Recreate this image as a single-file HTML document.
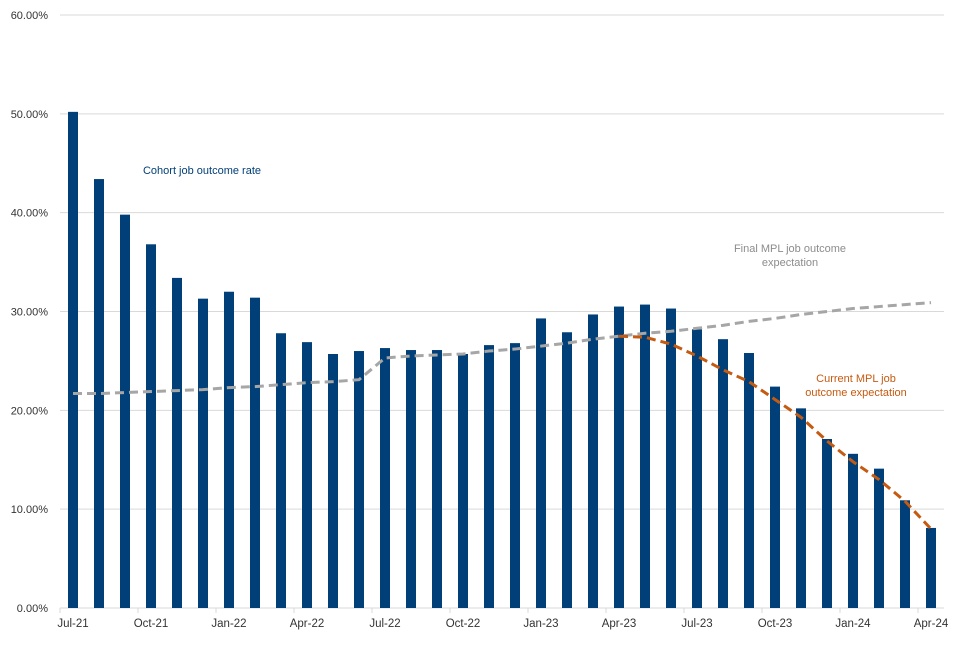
<!DOCTYPE html>
<html><head><meta charset="utf-8"><style>
body{margin:0;background:#fff;}
svg text{font-family:"Liberation Sans",sans-serif;}
</style></head><body>
<svg id="chart" width="960" height="640" xmlns="http://www.w3.org/2000/svg"></svg>
<script>
const months=["Jul-21","Aug-21","Sep-21","Oct-21","Nov-21","Dec-21","Jan-22","Feb-22","Mar-22","Apr-22","May-22","Jun-22","Jul-22","Aug-22","Sep-22","Oct-22","Nov-22","Dec-22","Jan-23","Feb-23","Mar-23","Apr-23","May-23","Jun-23","Jul-23","Aug-23","Sep-23","Oct-23","Nov-23","Dec-23","Jan-24","Feb-24","Mar-24","Apr-24"];
const cohortRate=[50.2,43.4,39.8,36.8,33.4,31.3,32.0,31.4,27.8,26.9,25.7,26.0,26.3,26.1,26.1,25.7,26.6,26.8,29.3,27.9,29.7,30.5,30.7,30.3,28.2,27.2,25.8,22.4,20.2,17.1,15.6,14.1,10.9,8.1];
const finalMpl=[21.7,21.7,21.8,21.9,22.0,22.1,22.3,22.4,22.6,22.8,22.9,23.1,25.3,25.5,25.6,25.7,26.0,26.2,26.5,26.8,27.2,27.5,27.8,28.0,28.3,28.6,29.0,29.3,29.7,30.0,30.3,30.5,30.7,30.9];
const currentMpl=[null,null,null,null,null,null,null,null,null,null,null,null,null,null,null,null,null,null,null,null,null,27.5,27.4,26.7,25.5,24.1,22.9,21.1,19.3,16.9,14.8,13.0,10.8,8.0];
const yTicks=[0,10,20,30,40,50,60];
const xTickLabels=["Jul-21","Oct-21","Jan-22","Apr-22","Jul-22","Oct-22","Jan-23","Apr-23","Jul-23","Oct-23","Jan-24","Apr-24"];

const NS="http://www.w3.org/2000/svg";
const svg=document.getElementById('chart');
const X0=60,X1=944,Y0=608,YTOP=15;
const bw=(X1-X0)/months.length;
const y=v=>Y0-(v/60)*(Y0-YTOP);
const xc=i=>X0+bw*(i+0.5);
function mk(t,a){const e=document.createElementNS(NS,t);for(const k in a)e.setAttribute(k,a[k]);svg.appendChild(e);return e;}

yTicks.forEach(v=>{
  if(v>0){const g=mk('line',{x1:X0,x2:X1,y1:y(v),y2:y(v),stroke:'#d9d9d9','stroke-width':1});
  
  }
  const t=mk('text',{x:48,y:y(v)+4,'text-anchor':'end','font-size':11,fill:'#333'});
  t.textContent=v.toFixed(2)+'%';
  
  
});
const ax=mk('line',{x1:X0,x2:X1,y1:Y0,y2:Y0,stroke:'#d9d9d9','stroke-width':1});


xTickLabels.forEach(l=>{
  const i=months.indexOf(l);const x=X0+bw*i;
  const tk=mk('line',{x1:x,x2:x,y1:Y0,y2:Y0+5,stroke:'#d9d9d9'});
  
  
  const t=mk('text',{x:xc(i),y:Y0+19,'text-anchor':'middle','font-size':11.5,fill:'#333'});
  t.textContent=l;
  
  
});
cohortRate.forEach((v,i)=>{
  const r=mk('rect',{x:xc(i)-5,y:y(v),width:10,height:Y0-y(v),fill:'#003f78'});
  
  
});
function line(arr,color,name){
  let d='';arr.forEach((v,i)=>{if(v==null)return;d+=(d?'L':'M')+xc(i)+','+y(v);});
  const p=mk('path',{d:d,fill:'none',stroke:color,'stroke-width':3,'stroke-dasharray':'9,5'});
  
  
}
line(finalMpl,'#a6a6a6','final-mpl-line');
line(currentMpl,'#c55a11','current-mpl-line');
function label(lines,x,yy,color,name){
  const t=mk('text',{x:x,y:yy,'text-anchor':'middle','font-size':11,fill:color});
  lines.forEach((s,k)=>{const ts=document.createElementNS(NS,'tspan');ts.setAttribute('x',x);ts.setAttribute('dy',k?14:0);ts.textContent=s;t.appendChild(ts);});
  
  
}
label(["Cohort job outcome rate"],202,174,'#003f78','cohort-label');
label(["Final MPL job outcome","expectation"],790,252,'#8c8c8c','final-mpl-label');
label(["Current MPL job","outcome expectation"],856,382,'#c55a11','current-mpl-label');
</script>
</body></html>
